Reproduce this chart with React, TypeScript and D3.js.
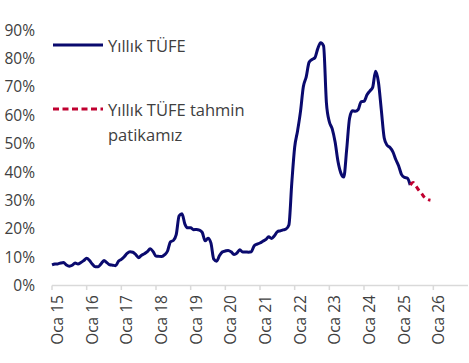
import React from "react";
import * as d3 from "d3";

const years = ["15", "16", "17", "18", "19", "20", "21", "22", "23", "24", "25", "26"];
const yTicks = [0, 10, 20, 30, 40, 50, 60, 70, 80, 90];

// Annual CPI, monthly from Jan 2015 to May 2025
const actual = [
  7.24, 7.55, 7.61, 7.91, 8.09, 7.2, 6.81, 7.14, 7.95, 7.58, 8.1, 8.81,
  9.58, 8.78, 7.46, 6.57, 6.58, 7.64, 8.79, 8.05, 7.28, 7.16, 7.0, 8.53,
  9.22, 10.13, 11.29, 11.87, 11.72, 10.9, 9.79, 10.68, 11.2, 11.9, 12.98, 11.92,
  10.35, 10.26, 10.23, 10.85, 12.15, 15.39, 15.85, 17.9, 24.52, 25.24, 21.62, 20.3,
  20.35, 19.67, 19.71, 19.5, 18.71, 15.72, 16.65, 15.01, 9.26, 8.55, 10.56, 11.84,
  12.15, 12.37, 11.86, 10.94, 11.39, 12.62, 11.76, 11.77, 11.75, 11.89, 14.03, 14.6,
  14.97, 15.61, 16.19, 17.14, 16.59, 17.53, 18.95, 19.25, 19.58, 19.89, 21.31, 36.08,
  48.69, 54.44, 61.14, 69.97, 73.5, 78.62, 79.6, 80.21, 83.45, 85.51, 84.39, 64.27,
  57.68, 55.18, 50.51, 43.68, 39.59, 38.21, 47.83, 58.94, 61.53, 61.36, 61.98, 64.77,
  64.86, 67.07, 68.5, 69.8, 75.45, 71.6, 61.78, 51.97, 49.38, 48.58, 47.09, 44.38,
  42.12, 39.05, 38.1, 37.86, 35.41,
];
// Forecast path, May 2025 to Dec 2025
const forecast = [35.41, 36.3, 35.0, 33.5, 32.3, 31.0, 30.3, 30.0];
const forecastStart = 124;

const legendLabels = ["Yıllık TÜFE", "Yıllık TÜFE tahmin", "patikamız"];

const FONT = "'Open Sans', sans-serif";

export default function App() {
  const x = d3.scaleLinear().domain([0, 144]).range([52, 468]);
  const y = d3.scaleLinear().domain([0, 90]).range([285.5, 30]);
  const line = d3
    .line<number>()
    .x((_, i) => x(i))
    .y((d) => y(d))
    .curve(d3.curveMonotoneX);
  const fline = d3
    .line<number>()
    .x((_, i) => x(i + forecastStart))
    .y((d) => y(d))
    .curve(d3.curveMonotoneX);

  return (
    <svg
      width={469}
      height={363}
      style={{ position: "absolute", left: 0, top: 0, background: "#fff" }}
    >
      {yTicks.map((t) => (
        <text
          key={t}
          x={35}
          y={y(t)}
          dy="0.36em"
          textAnchor="end"
          fontFamily={FONT}
          fontSize={15.5}
          fill="#404040"
        >
          {t}%
        </text>
      ))}
      <line x1={52} x2={468} y1={285.5} y2={285.5} stroke="#d9d9d9" strokeWidth={1.5} />
      {years.map((yr, i) => (
        <g key={yr}>
          <line
            x1={x(i * 12)}
            x2={x(i * 12)}
            y1={285.5}
            y2={290}
            stroke="#d9d9d9"
            strokeWidth={1.5}
          />
          <text
            transform={`translate(${x(i * 12) + 5.5},295) rotate(-90)`}
            textAnchor="end"
            dy="0.35em"
            fontFamily={FONT}
            fontSize={15.5}
            fill="#404040"
          >
            {"Oca " + yr}
          </text>
        </g>
      ))}
      <path d={line(actual) || ""} fill="none" stroke="#0a0a6e" strokeWidth={3} strokeLinejoin="round" />
      <path
        d={fline(forecast) || ""}
        fill="none"
        stroke="#c00030"
        strokeWidth={3}
        strokeDasharray="5,4"
      />
      <line x1={53} x2={103} y1={45} y2={45} stroke="#0a0a6e" strokeWidth={3} />
      <text x={108} y={46} dy="0.36em" fontFamily={FONT} fontSize={16.5} fill="#404040">
        {legendLabels[0]}
      </text>
      <line
        x1={53}
        x2={103}
        y1={109}
        y2={109}
        stroke="#c00030"
        strokeWidth={3}
        strokeDasharray="6,3.5"
      />
      <text x={108} y={110} dy="0.36em" fontFamily={FONT} fontSize={16.5} fill="#404040">
        {legendLabels[1]}
      </text>
      <text x={108} y={135} dy="0.36em" fontFamily={FONT} fontSize={16.5} fill="#404040">
        {legendLabels[2]}
      </text>
    </svg>
  );
}
